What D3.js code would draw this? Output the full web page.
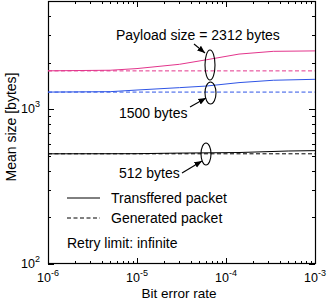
<!DOCTYPE html>
<html><head><meta charset="utf-8">
<script src="https://cdn.jsdelivr.net/npm/d3@7"></script>
<style>body{margin:0;background:#fff}svg{display:block}text{font-family:"Liberation Sans",Arial,sans-serif;fill:#000}</style>
</head><body><svg id="c" width="327" height="305"></svg>
<script>
// Data
const ber2312 = [1e-6, 5e-6, 1e-5, 3e-5, 6e-5, 1.4e-4, 3.4e-4, 1e-3];
const trans2312 = [1770, 1785, 1830, 1950, 2085, 2270, 2365, 2380];
const gen2312 = 1768;
const ber1500 = [1e-6, 5e-6, 1e-5, 3e-5, 6e-5, 1.4e-4, 3.4e-4, 1e-3];
const trans1500 = [1290, 1298, 1330, 1378, 1411, 1485, 1538, 1560];
const gen1500 = 1290;
const ber512 = [1e-6, 1e-5, 2.5e-5, 1.4e-4, 5e-4, 1e-3];
const trans512 = [515, 516, 520, 525, 537, 540];
const gen512 = 515;
const xMajor = [1e-6, 1e-5, 1e-4, 1e-3];
const xLabels = ["-6", "-5", "-4", "-3"];
const yMajor = [100, 1000];
const yLabels = ["2", "3"];

const svg = d3.select("#c");
const L = 48, R = 315, T = 1, B = 264;
const x = d3.scaleLog().domain([1e-6, 1e-3]).range([L, R]);
const y = d3.scaleLog().domain([100, 5000]).range([B, T]);

// minor ticks
const xMinor = [];
for (let e = -6; e < -3; e++) for (let m = 2; m <= 9; m++) xMinor.push(m * Math.pow(10, e));
const yMinor = [];
for (let e = 2; e < 4; e++) for (let m = 2; m <= 9; m++) { const v = m * Math.pow(10, e); if (v < 5000) yMinor.push(v); }

const g = svg.append("g").attr("stroke", "#000").attr("stroke-width", 1);
function tk(x1, y1, x2, y2) { g.append("line").attr("x1", x1).attr("y1", y1).attr("x2", x2).attr("y2", y2); }
xMajor.forEach(v => { const px = Math.round(x(v)) + 0.5; tk(px, B, px, B - 6); tk(px, T, px, T + 6); });
xMinor.forEach(v => { const px = Math.round(x(v)) + 0.5; tk(px, B, px, B - 3); tk(px, T, px, T + 3); });
yMajor.forEach(v => { const py = Math.round(y(v)) + 0.5; tk(L, py, L + 6, py); tk(R, py, R - 6, py); });
yMinor.forEach(v => { const py = Math.round(y(v)) + 0.5; tk(L, py, L + 3, py); tk(R, py, R - 3, py); });
svg.append("rect").attr("x", L + 0.5).attr("y", T + 0.5).attr("width", R - L).attr("height", B - T - 1)
  .attr("fill", "none").attr("stroke", "#000").attr("stroke-width", 1.2);

// tick labels
xMajor.forEach((v, i) => {
  const t = svg.append("text").attr("x", x(v)).attr("y", 282).attr("text-anchor", "middle").attr("font-size", 12.5);
  t.append("tspan").text("10");
  t.append("tspan").attr("dy", -6).attr("font-size", 9).text(xLabels[i]);
});
yMajor.forEach((v, i) => {
  const t = svg.append("text").attr("x", 40).attr("y", y(v) + 4).attr("text-anchor", "end").attr("font-size", 12.5);
  t.append("tspan").text("10");
  t.append("tspan").attr("dy", -6).attr("font-size", 9).text(yLabels[i]);
});
svg.append("text").attr("x", 179).attr("y", 298).attr("text-anchor", "middle").attr("font-size", 13.5).text("Bit error rate");
svg.append("text").attr("transform", "translate(16,127) rotate(-90)").attr("text-anchor", "middle").attr("font-size", 14).text("Mean size [bytes]");

// lines
const line = d3.line().x(d => x(d[0])).y(d => y(d[1]));
const pink = "#e3358c", blue = "#2f55e6";
function series(bers, vals, gen, col) {
  svg.append("path").datum(bers.map((b, i) => [b, vals[i]])).attr("d", line).attr("fill", "none").attr("stroke", col).attr("stroke-width", 1);
  svg.append("path").datum([[1e-6, gen], [1e-3, gen]]).attr("d", line).attr("fill", "none").attr("stroke", col).attr("stroke-width", 1).attr("stroke-dasharray", "4,2.5");
}
series(ber2312, trans2312, gen2312, pink);
series(ber1500, trans1500, gen1500, blue);
series(ber512, trans512, gen512, "#000");

// annotations
const defs = svg.append("defs");
defs.append("marker").attr("id", "ah").attr("viewBox", "0 0 10 10").attr("refX", 10).attr("refY", 5)
  .attr("markerWidth", 7).attr("markerHeight", 7).attr("orient", "auto")
  .append("path").attr("d", "M0,1 L10,5 L0,9 Z").attr("fill", "#000");
function ell(cx, cy, rx, ry) { svg.append("ellipse").attr("cx", cx).attr("cy", cy).attr("rx", rx).attr("ry", ry).attr("fill", "none").attr("stroke", "#000").attr("stroke-width", 1.1); }
function arrow(x1, y1, x2, y2) { svg.append("line").attr("x1", x1).attr("y1", y1).attr("x2", x2).attr("y2", y2).attr("stroke", "#000").attr("stroke-width", 1.1).attr("marker-end", "url(#ah)"); }
ell(210, 65, 5, 15);
ell(210.5, 93, 5.5, 11);
ell(206, 154, 5, 11);
arrow(194, 44, 205, 53);
arrow(190, 107, 206, 98);
arrow(182, 173, 202, 161);
svg.append("text").attr("x", 116).attr("y", 40).attr("font-size", 14).text("Payload size = 2312 bytes");
svg.append("text").attr("x", 119).attr("y", 118).attr("font-size", 14).text("1500 bytes");
svg.append("text").attr("x", 119).attr("y", 178).attr("font-size", 14).text("512 bytes");

// legend
svg.append("line").attr("x1", 67).attr("y1", 198).attr("x2", 100).attr("y2", 198).attr("stroke", "#000").attr("stroke-width", 1);
svg.append("line").attr("x1", 67).attr("y1", 218).attr("x2", 100).attr("y2", 218).attr("stroke", "#000").attr("stroke-width", 1).attr("stroke-dasharray", "4,2.5");
svg.append("text").attr("x", 111).attr("y", 203).attr("font-size", 14).text("Transffered packet");
svg.append("text").attr("x", 111).attr("y", 223).attr("font-size", 14).text("Generated packet");
svg.append("text").attr("x", 67).attr("y", 248).attr("font-size", 14).text("Retry limit: infinite");
</script></body></html>
